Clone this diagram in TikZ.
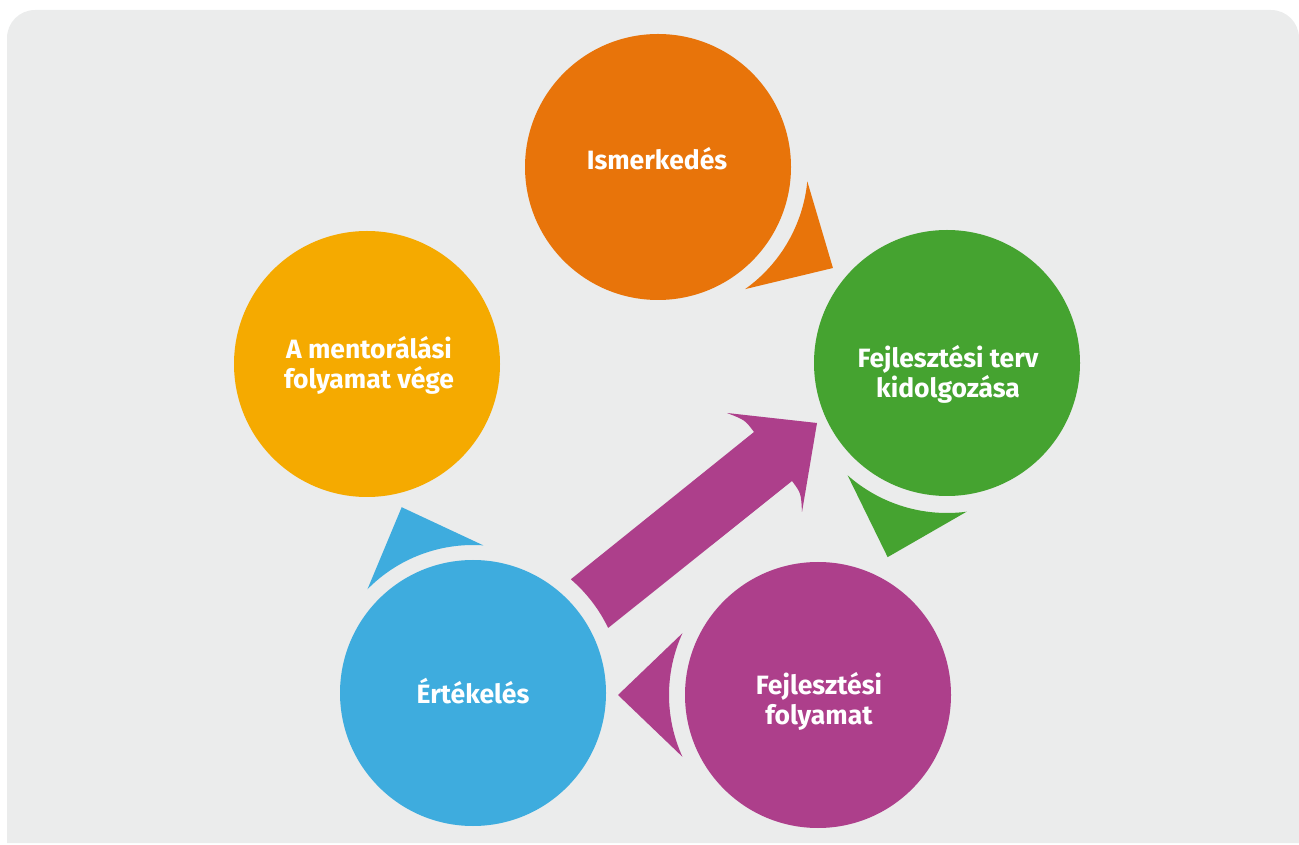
\documentclass[tikz,border=0pt]{standalone}
\usepackage{fontspec}
\setmainfont{Fira Sans}
\usetikzlibrary{calc}
\definecolor{bgc}{RGB}{235,236,236}
\definecolor{corange}{RGB}{232,116,10}
\definecolor{cgreen}{RGB}{69,163,48}
\definecolor{cpurple}{RGB}{173,63,139}
\definecolor{cblue}{RGB}{62,172,222}
\definecolor{cyellow}{RGB}{245,170,0}
\tikzset{
  stagecircle/.style={circle, minimum size=266pt, inner sep=0pt, draw=none},
  stagetext/.style={text=white, align=center, inner sep=0pt, font=\fontsize{26.5}{30}\selectfont\bfseries},
}
\begin{document}
\begin{tikzpicture}[x=1pt,y=1pt]
\useasboundingbox (0,0) rectangle (1299,844);
\clip (0,0) rectangle (1299,844);
% background panel
\fill[bgc] (7,1) -- (7,806) arc[start angle=180, end angle=90, radius=28pt] -- (1271,834) arc[start angle=90, end angle=0, radius=28pt] -- (1299,1) -- cycle;

% circles
\node[stagecircle, fill=corange] (ism) at (658,677) {};
\node[stagecircle, fill=cgreen] (terv) at (947,481) {};
\node[stagecircle, fill=cpurple] (foly) at (818,149) {};
\node[stagecircle, fill=cblue] (ert) at (473,151) {};
\node[stagecircle, fill=cyellow] (vege) at (367,480) {};

% tails
\fill[corange] ($(ism.center)+(-5.5:150pt)$) arc[start angle=-5.5, end angle=-54.5, radius=150pt] -- ($(ism.center)+(-30:202pt)$) -- cycle;
\fill[cgreen] ($(terv.center)+(-82.5:150pt)$) arc[start angle=-82.5, end angle=-131.5, radius=150pt] -- ($(terv.center)+(-107:203pt)$) -- cycle;
\fill[cpurple] ($(foly.center)+(155.5:149pt)$) arc[start angle=155.5, end angle=204.5, radius=149pt] -- ($(foly.center)+(180:200pt)$) -- cycle;
\fill[cblue] ($(ert.center)+(86:148pt)$) arc[start angle=86, end angle=135.5, radius=148pt] -- ($(ert.center)+(111:199pt)$) -- cycle;

% big arrow from evaluation to plan
\coordinate (notchT) at (754,412);
\coordinate (barbT) at (727,431);
\coordinate (tip) at (817,421);
\coordinate (barbB) at (802,332);
\coordinate (notchB) at (792,363);
\fill[cpurple] ($(ert.center)+(49.3:150pt)$) -- (notchT) .. controls (745,424) .. (barbT) -- (tip) -- (barbB) .. controls (801,351) .. (notchB) -- ($(ert.center)+(25.7:150pt)$) arc[start angle=25.7, end angle=49.3, radius=150pt] -- cycle;

% texts
\node[stagetext] (tism) at (657,685) {Ismerkedés};
\node[stagetext] (tterv) at (948,470) {Fejlesztési terv\\kidolgozása};
\node[stagetext] (tfoly) at (819,143) {Fejlesztési\\folyamat};
\node[stagetext] (tert) at (473,153) {Értékelés};
\node[stagetext] (tvege) at (369,479) {A mentorálási\\folyamat vége};
\end{tikzpicture}
\end{document}
